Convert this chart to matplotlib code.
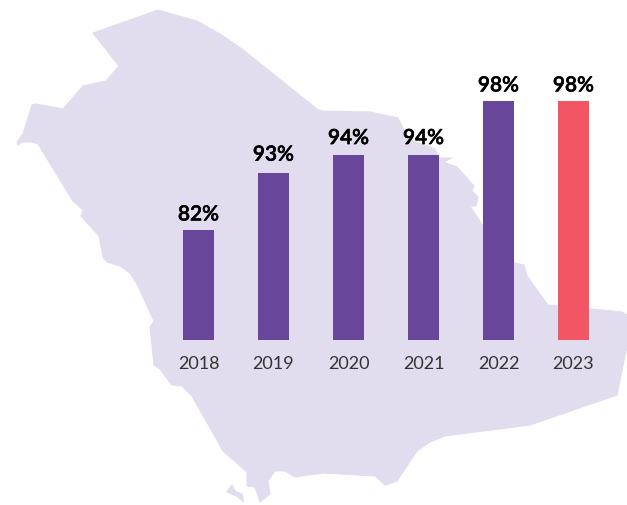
import matplotlib
matplotlib.use("Agg")
import matplotlib.pyplot as plt
import matplotlib.patheffects as pe
from matplotlib.patches import Polygon

years = ["2018", "2019", "2020", "2021", "2022", "2023"]
value_labels = ["82%", "93%", "94%", "94%", "98%", "98%"]
# drawn heights are not proportional to the labels in the source, so they are read separately
bar_heights = [110, 167, 185, 185, 239, 239]
bar_colors = ["#68469a", "#68469a", "#68469a", "#68469a", "#68469a", "#f25563"]

# background map outline, in image pixels
map_outline = [
    (158, 11), (197, 22), (220, 35), (242, 50), (317, 110), (322, 112), (370, 113), (398, 119),
    (408, 140), (435, 150), (439, 159), (452, 159), (443, 163), (457, 168), (474, 187),
    (472, 192), (478, 198), (476, 207), (470, 207), (483, 227), (500, 255), (515, 264),
    (524, 266), (527, 277), (548, 306), (560, 307), (622, 313), (627, 316), (627, 347),
    (617, 396), (530, 426), (445, 437), (430, 443), (417, 452), (397, 482), (385, 486),
    (375, 477), (323, 474), (295, 478), (285, 472), (275, 472), (268, 482), (270, 495),
    (260, 503), (255, 488), (247, 487), (247, 473), (223, 452), (192, 397), (182, 387),
    (172, 386), (160, 370), (154, 366), (150, 328), (154, 322), (137, 285), (130, 274),
    (120, 267), (107, 263), (103, 258), (99, 237), (81, 217), (83, 211), (73, 202), (38, 145),
    (32, 143), (22, 143), (18, 146), (17, 143), (23, 135), (32, 106), (36, 105), (63, 110),
    (83, 87), (106, 82), (119, 67), (93, 34),
]
islet_outline = [(226, 493), (232, 485), (236, 492), (243, 495), (244, 504), (237, 498)]

plt.rcParams["font.family"] = ["Lato", "DejaVu Sans"]

fig = plt.figure(figsize=(6.27, 5.06), dpi=100)

map_ax = fig.add_axes([0, 0, 1, 1])
map_ax.set_xlim(0, 627)
map_ax.set_ylim(506, 0)
map_ax.axis("off")
map_ax.add_patch(Polygon(map_outline, closed=True, fc="#e1ddee", ec="#e1ddee", lw=0.8, joinstyle="round"))
map_ax.add_patch(Polygon(islet_outline, closed=True, fc="#e1ddee", ec="none"))

ax = fig.add_axes([161 / 627, 165 / 506, 450 / 627, 340 / 506])
ax.patch.set_alpha(0)
bars = ax.bar(range(len(years)), bar_heights, width=31 / 75, color=bar_colors)
ax.set_xlim(-0.5, 5.5)
ax.set_ylim(0, 340)
ax.set_yticks([])
ax.set_xticks(range(len(years)), years)
ax.tick_params(axis="x", length=0, pad=11, labelsize=13, labelcolor="#333333")
for side in ax.spines.values():
    side.set_visible(False)

# the gap above each bar varies a little in the source
label_pad = [4, 6, 5, 5, 4, 4]
for i, txt in enumerate(value_labels):
    ax.annotate(txt, (i, bar_heights[i]), xytext=(0, label_pad[i]), textcoords="offset points",
                ha="center", va="bottom", fontsize=15, fontweight="semibold", color="black",
                path_effects=[pe.withStroke(linewidth=0.4, foreground="black")])

fig.savefig("out.png", dpi=100)
